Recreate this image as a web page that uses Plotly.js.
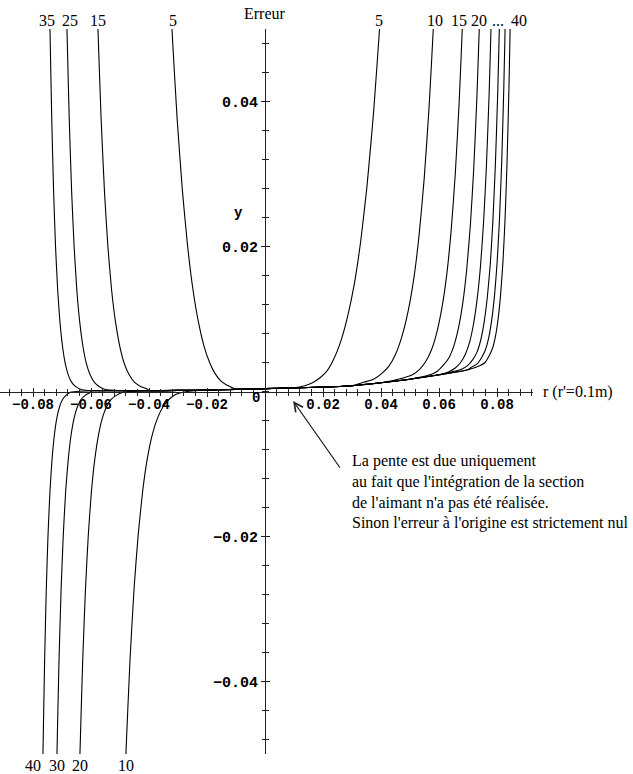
<!DOCTYPE html>
<html><head><meta charset="utf-8">
<script src="https://cdn.plot.ly/plotly-3.0.1.min.js"></script>
<style>html,body{margin:0;padding:0;background:#fff}#c{width:633px;height:774px}</style>
</head><body><div id="c"></div>
<script>
// Common low part of all curves ("pente")
const baseX = [-0.06, -0.05, -0.04, -0.03, -0.02, -0.01, 0, 0.01, 0.02, 0.03, 0.04, 0.05, 0.06, 0.07];
const baseY = [0.0001, 0.0001, 0.0001, 0.00015, 0.0002, 0.0003, 0.0004, 0.0005, 0.0006, 0.0008, 0.0012, 0.0017, 0.0023, 0.003];

const orders = [5, 10, 15, 20, 25, 30, 35, 40];

// left branches (outer -> inner)
const L5x  = [-0.03326, -0.03207, -0.03028, -0.02846, -0.02670, -0.02486, -0.02301, -0.02099, -0.01910, -0.01725, -0.01534, -0.01324, -0.01112];
const L5y  = [0.0599, 0.0499, 0.0375, 0.0276, 0.0201, 0.0141, 0.0097, 0.0062, 0.0040, 0.0025, 0.0015, 0.0009, 0.0005];
const L10x = [-0.04881, -0.04793, -0.04657, -0.04515, -0.04373, -0.04220, -0.04060, -0.03877, -0.03699, -0.03515, -0.03314, -0.03080, -0.02822];
const L10y = [-0.0597, -0.0497, -0.0372, -0.0272, -0.0198, -0.0138, -0.0093, -0.0058, -0.0036, -0.0021, -0.0011, -0.0004, -0.0001];
const L15x = [-0.05829, -0.05759, -0.05650, -0.05534, -0.05418, -0.05290, -0.05155, -0.05000, -0.04846, -0.04683, -0.04503, -0.04288, -0.04045];
const L15y = [0.0599, 0.0499, 0.0375, 0.0275, 0.0200, 0.0140, 0.0096, 0.0061, 0.0038, 0.0023, 0.0013, 0.0007, 0.0003];
const L20x = [-0.06438, -0.06379, -0.06288, -0.06191, -0.06093, -0.05985, -0.05871, -0.05737, -0.05604, -0.05463, -0.05305, -0.05113, -0.04895];
const L20y = [-0.0597, -0.0497, -0.0373, -0.0273, -0.0198, -0.0138, -0.0094, -0.0059, -0.0036, -0.0021, -0.0011, -0.0005, -0.0001];
const L25x = [-0.06878, -0.06828, -0.06750, -0.06667, -0.06582, -0.06489, -0.06389, -0.06273, -0.06156, -0.06031, -0.05891, -0.05721, -0.05524];
const L25y = [0.0599, 0.0499, 0.0375, 0.0275, 0.0200, 0.0140, 0.0096, 0.0061, 0.0038, 0.0023, 0.0013, 0.0007, 0.0003];
const L30x = [-0.07216, -0.07172, -0.07104, -0.07031, -0.06956, -0.06874, -0.06785, -0.06683, -0.06579, -0.06468, -0.06342, -0.06189, -0.06011];
const L30y = [-0.0597, -0.0497, -0.0373, -0.0273, -0.0198, -0.0138, -0.0094, -0.0059, -0.0036, -0.0021, -0.0011, -0.0005, -0.0001];
const L35x = [-0.07453, -0.07414, -0.07353, -0.07289, -0.07223, -0.07149, -0.07071, -0.06978, -0.06885, -0.06785, -0.06673, -0.06534, -0.06372];
const L35y = [0.0599, 0.0499, 0.0375, 0.0275, 0.0200, 0.0140, 0.0096, 0.0061, 0.0038, 0.0023, 0.0013, 0.0007, 0.0003];
const L40x = [-0.07690, -0.07655, -0.07600, -0.07542, -0.07482, -0.07415, -0.07344, -0.07260, -0.07175, -0.07084, -0.06981, -0.06854, -0.06705];
const L40y = [-0.0597, -0.0497, -0.0373, -0.0273, -0.0198, -0.0138, -0.0094, -0.0059, -0.0036, -0.0021, -0.0011, -0.0005, -0.0001];

// right branches (outer -> inner)
const R5x  = [0.04113, 0.03966, 0.03744, 0.03519, 0.03302, 0.03074, 0.02845, 0.02595, 0.02363, 0.02133, 0.01897, 0.01638, 0.01375];
const R5y  = [0.0611, 0.0510, 0.0385, 0.0284, 0.0208, 0.0147, 0.0103, 0.0067, 0.0044, 0.0028, 0.0019, 0.0012, 0.0008];
const R10x = [0.05935, 0.05828, 0.05662, 0.05490, 0.05317, 0.05132, 0.04936, 0.04714, 0.04498, 0.04274, 0.04030, 0.03745, 0.03431];
const R10y = [0.0621, 0.0520, 0.0395, 0.0294, 0.0217, 0.0156, 0.0111, 0.0075, 0.0051, 0.0035, 0.0025, 0.0017, 0.0013];
const R15x = [0.06911, 0.06828, 0.06698, 0.06561, 0.06423, 0.06272, 0.06112, 0.05928, 0.05745, 0.05553, 0.05339, 0.05084, 0.04796];
const R15y = [0.0627, 0.0526, 0.0401, 0.0300, 0.0224, 0.0163, 0.0118, 0.0082, 0.0058, 0.0042, 0.0031, 0.0023, 0.0019];
const R20x = [0.07482, 0.07414, 0.07308, 0.07196, 0.07082, 0.06957, 0.06823, 0.06668, 0.06513, 0.06349, 0.06165, 0.05943, 0.05689];
const R20y = [0.0632, 0.0532, 0.0407, 0.0306, 0.0230, 0.0169, 0.0123, 0.0087, 0.0063, 0.0047, 0.0037, 0.0028, 0.0023];
const R25x = [0.07874, 0.07817, 0.07728, 0.07633, 0.07536, 0.07429, 0.07314, 0.07181, 0.07048, 0.06905, 0.06745, 0.06550, 0.06324];
const R25y = [0.0636, 0.0535, 0.0410, 0.0309, 0.0233, 0.0172, 0.0127, 0.0091, 0.0067, 0.0051, 0.0040, 0.0032, 0.0027];
const R30x = [0.08152, 0.08103, 0.08026, 0.07943, 0.07859, 0.07767, 0.07666, 0.07550, 0.07433, 0.07307, 0.07165, 0.06992, 0.06791];
const R30y = [0.0638, 0.0538, 0.0413, 0.0312, 0.0236, 0.0175, 0.0130, 0.0094, 0.0070, 0.0054, 0.0044, 0.0036, 0.0031];
const R35x = [0.08343, 0.08300, 0.08232, 0.08160, 0.08086, 0.08004, 0.07916, 0.07812, 0.07708, 0.07596, 0.07470, 0.07315, 0.07134];
const R35y = [0.0640, 0.0540, 0.0415, 0.0314, 0.0238, 0.0178, 0.0133, 0.0097, 0.0073, 0.0057, 0.0047, 0.0038, 0.0034];
const R40x = [0.08511, 0.08472, 0.08411, 0.08347, 0.08281, 0.08207, 0.08127, 0.08035, 0.07941, 0.07840, 0.07726, 0.07585, 0.07421];
const R40y = [0.0642, 0.0542, 0.0417, 0.0317, 0.0241, 0.0180, 0.0135, 0.0099, 0.0075, 0.0059, 0.0049, 0.0040, 0.0036];

// tick labels
const xTickVals = [-0.08, -0.06, -0.04, -0.02, 0.02, 0.04, 0.06, 0.08];
const xTickText = ['\u22120.08', '\u22120.06', '\u22120.04', '\u22120.02', '0.02', '0.04', '0.06', '0.08'];
const yTickVals = [-0.04, -0.02, 0.02, 0.04];
const yTickText = ['\u22120.04', '\u22120.02', '0.02', '0.04'];

// curve labels
const topLabels  = ['35', '25', '15', '5', '5', '10', '15', '20', '...', '40'];
const topLabelX  = [-0.0752, -0.0672, -0.0576, -0.0317, 0.0393, 0.0586, 0.0669, 0.0738, 0.0803, 0.0876];
const botLabels  = ['40', '30', '20', '10'];
const botLabelX  = [-0.0800, -0.0717, -0.0638, -0.0479];

const leftX = [L5x, L10x, L15x, L20x, L25x, L30x, L35x, L40x];
const leftY = [L5y, L10y, L15y, L20y, L25y, L30y, L35y, L40y];
const rightX = [R5x, R10x, R15x, R20x, R25x, R30x, R35x, R40x];
const rightY = [R5y, R10y, R15y, R20y, R25y, R30y, R35y, R40y];

const traces = orders.map((n, k) => {
  const lx = leftX[k], ly = leftY[k], rx = rightX[k], ry = rightY[k];
  const xs = lx.slice(), ys = ly.slice();
  const lo = lx[lx.length - 1], hi = rx[rx.length - 1];
  baseX.forEach((bx, i) => { if (bx > lo && bx < hi) { xs.push(bx); ys.push(baseY[i]); } });
  for (let i = rx.length - 1; i >= 0; i--) { xs.push(rx[i]); ys.push(ry[i]); }
  return {x: xs, y: ys, type: 'scatter', mode: 'lines', name: 'n=' + n,
          line: {color: '#000', width: 1.1, shape: 'spline', smoothing: 0.5}, hoverinfo: 'skip'};
});
traces.push({x: [null], y: [null], xaxis: 'x2', yaxis: 'y2', type: 'scatter', mode: 'lines', showlegend: false});

const XR = [-0.091379, 0.092414];
const YR = [-0.05, 0.05];
const YPOS = 265 / 533;
const axCol = '#222';
const tf = {family: 'Liberation Mono, Courier New, monospace', size: 14, color: '#000', weight: 'bold'};
const serif = {family: 'Liberation Serif, Times New Roman, serif', size: 16, color: '#000'};

const ann = [];
topLabels.forEach((t, i) => ann.push({text: t, x: topLabelX[i], xref: 'x', y: (754 - 20) / 725, yref: 'paper', showarrow: false, font: serif, xanchor: 'center', yanchor: 'middle'}));
botLabels.forEach((t, i) => ann.push({text: t, x: botLabelX[i], xref: 'x', y: (754 - 765) / 725, yref: 'paper', showarrow: false, font: serif, xanchor: 'center', yanchor: 'middle'}));
ann.push({text: 'Erreur', x: 0, xref: 'x', y: (754 - 14) / 725, yref: 'paper', showarrow: false, font: serif, xanchor: 'center', yanchor: 'middle'});
ann.push({text: "r (r'=0.1m)", x: 541 / 533, xref: 'paper', y: 0, yref: 'y', showarrow: false, font: serif, xanchor: 'left', yanchor: 'middle'});
ann.push({text: 'y', x: -0.0093, xref: 'x', y: 0.0246, yref: 'y', showarrow: false, font: tf, xanchor: 'center', yanchor: 'middle'});
ann.push({text: '0', x: -0.0031, xref: 'x', y: -0.0009, yref: 'y', showarrow: false, font: tf, xanchor: 'center', yanchor: 'middle'});
ann.push({text: "La pente est due uniquement<br>au fait que l'intégration de la section<br>de l'aimant n'a pas été réalisée.<br>Sinon l'erreur à l'origine est strictement nul",
  x: 0.0293, xref: 'x', y: -0.0081, yref: 'y', showarrow: false, font: serif, xanchor: 'left', yanchor: 'top', align: 'left'});
ann.push({text: '', x: 0.0097, y: -0.0013, xref: 'x', yref: 'y', ax: 0.0262, ay: -0.0107, axref: 'x', ayref: 'y',
  showarrow: true, arrowhead: 5, arrowsize: 1.6, arrowwidth: 1.1, arrowcolor: '#222'});

const minorX = {dtick: 0.004, tick0: 0, ticklen: 3, tickwidth: 1, tickcolor: axCol, showgrid: false};
const layout = {
  width: 633, height: 774, margin: {l: 0, r: 100, t: 29, b: 20},
  paper_bgcolor: '#fff', plot_bgcolor: '#fff', showlegend: false, hovermode: false,
  xaxis: {range: XR, anchor: 'free', position: 0.5, showgrid: false, zeroline: false, showline: true, linecolor: axCol, linewidth: 1,
    ticks: 'inside', ticklen: 4, tickwidth: 1, tickcolor: axCol, tickmode: 'array', tickvals: xTickVals, ticktext: xTickText,
    tickfont: tf, minor: Object.assign({ticks: 'inside'}, minorX), automargin: false, fixedrange: true},
  xaxis2: {range: XR, overlaying: 'x', anchor: 'free', position: 0.5, showgrid: false, zeroline: false, showline: false,
    ticks: 'outside', ticklen: 4, tickwidth: 1, tickcolor: axCol, tickmode: 'array', tickvals: xTickVals, showticklabels: false,
    minor: Object.assign({ticks: 'outside'}, minorX), automargin: false, fixedrange: true},
  yaxis: {range: YR, anchor: 'free', position: YPOS, showgrid: false, zeroline: false, showline: true, linecolor: axCol, linewidth: 1,
    ticks: 'outside', ticklen: 4, tickwidth: 1, tickcolor: axCol, tickmode: 'array', tickvals: yTickVals, ticktext: yTickText,
    tickfont: Object.assign({}, tf, {size: 15}), minor: Object.assign({ticks: 'outside'}, minorX), automargin: false, fixedrange: true},
  yaxis2: {range: YR, overlaying: 'y', anchor: 'free', position: YPOS, showgrid: false, zeroline: false, showline: false,
    ticks: 'inside', ticklen: 4, tickwidth: 1, tickcolor: axCol, tickmode: 'array', tickvals: yTickVals, showticklabels: false,
    minor: Object.assign({ticks: 'inside'}, minorX), automargin: false, fixedrange: true},
  annotations: ann
};
Plotly.newPlot('c', traces, layout, {staticPlot: true, displayModeBar: false});
</script>
</body></html>
